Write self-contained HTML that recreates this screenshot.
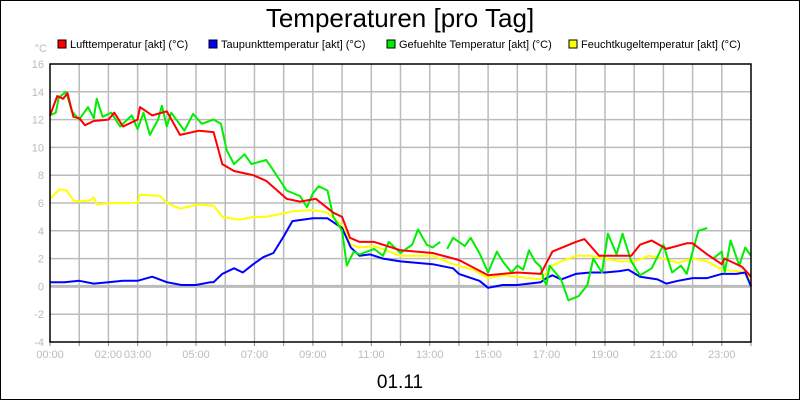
<!DOCTYPE html>
<html><head><meta charset="utf-8"><style>
body{margin:0;background:#fff}
svg{display:block;font-family:"Liberation Sans",sans-serif}
</style></head><body>
<svg id="c" width="800" height="400" viewBox="0 0 800 400">
<rect x="0.5" y="0.5" width="799" height="399" fill="#fff" stroke="#000"/>
<text x="400" y="27" text-anchor="middle" font-size="26">Temperaturen [pro Tag]</text>
<text x="400" y="388" text-anchor="middle" font-size="19">01.11</text>
<text x="47" y="52" text-anchor="end" font-size="11" fill="#bbb">°C</text>
<g id="legend"></g>
<g id="grid"></g><g id="series"></g>
<rect x="50" y="64" width="701" height="278" fill="none" stroke="#000" stroke-width="1.5"/>
</svg>
<script>
const seriesNames=["Lufttemperatur [akt] (°C)","Taupunkttemperatur [akt] (°C)","Gefuehlte Temperatur [akt] (°C)","Feuchtkugeltemperatur [akt] (°C)"];
const seriesColors=["#f00","#00f","#0e0","#ff0"];
const yTicks=[-4,-2,0,2,4,6,8,10,12,14,16];
const xTickLabels=["00:00","02:00","03:00","05:00","07:00","09:00","11:00","13:00","15:00","17:00","19:00","21:00","23:00"];
const xTickHours=[0,2,3,5,7,9,11,13,15,17,19,21,23];
const redH=[0,0.25,0.45,0.6,0.8,1.0,1.2,1.5,2.0,2.2,2.5,3.0,3.08,3.5,4.0,4.45,5.1,5.6,5.9,6.3,6.96,7.4,8.1,8.56,9.1,9.7,10.0,10.27,10.6,11.1,12.0,13.1,14.0,15.0,16.0,16.8,17.0,17.2,18.0,18.3,18.8,19.4,19.9,20.2,20.6,21.1,21.8,22.0,22.5,23.0,23.1,23.7,24];
const redV=[12.3,13.7,13.5,13.9,12.2,12.1,11.6,11.9,12.0,12.5,11.5,12.0,12.9,12.3,12.6,10.9,11.2,11.1,8.8,8.3,8.0,7.6,6.3,6.1,6.3,5.3,5.0,3.5,3.2,3.2,2.6,2.4,1.9,0.8,1.0,0.9,1.7,2.5,3.2,3.4,2.2,2.2,2.2,3.0,3.3,2.7,3.1,3.1,2.3,1.6,2.0,1.4,0.7];
const blueH=[0,0.5,1,1.5,2,2.5,3,3.5,4,4.5,5,5.5,5.6,5.9,6.3,6.6,6.96,7.3,7.65,8.0,8.3,9.0,9.5,10.0,10.3,10.6,10.96,11.4,12.0,13.1,13.8,14.0,14.7,15.0,15.5,16.0,16.8,17.0,17.2,17.5,18.0,18.5,19.0,19.5,19.8,20.2,20.8,21.1,21.5,22.0,22.5,23.0,23.5,23.8,24];
const blueV=[0.3,0.3,0.4,0.2,0.3,0.4,0.4,0.7,0.3,0.1,0.1,0.3,0.3,0.9,1.3,1.0,1.6,2.1,2.4,3.6,4.7,4.9,4.9,4.2,2.8,2.2,2.3,2.0,1.8,1.6,1.3,0.9,0.4,-0.1,0.1,0.1,0.3,0.6,0.8,0.5,0.9,1.0,1.0,1.1,1.2,0.7,0.5,0.2,0.4,0.6,0.6,0.9,0.9,1.0,0.0];
const yellowH=[0,0.34,0.57,0.8,1.0,1.37,1.5,1.6,2.17,3.0,3.08,3.77,4.0,4.45,5.1,5.6,5.9,6.5,6.96,7.4,8.1,8.3,9.0,9.5,10.0,10.3,10.6,11.1,12.0,13.1,13.8,14.5,15.0,15.5,16.0,16.8,17.2,17.5,18.0,18.5,19.0,19.5,20.0,20.5,21.0,21.5,22.0,22.5,23.0,23.5,23.8,24];
const yellowV=[6.3,7.0,6.9,6.2,6.1,6.2,6.4,5.9,6.0,6.0,6.6,6.5,6.0,5.6,5.9,5.8,5.0,4.8,5.0,5.0,5.3,5.4,5.5,5.3,4.4,3.0,2.8,2.9,2.2,2.2,1.6,1.2,0.6,0.8,0.7,0.5,1.5,1.8,2.2,2.2,2.0,1.8,1.8,2.2,2.0,1.7,2.0,1.8,1.2,1.1,1.0,0.4];
const greenH=[0,0.2,0.3,0.55,0.75,1.0,1.3,1.5,1.6,1.8,2.1,2.4,2.8,3.0,3.2,3.42,3.7,3.83,4.0,4.15,4.6,4.9,5.2,5.6,5.85,6.05,6.3,6.66,6.9,7.4,7.6,8.1,8.56,8.8,9.0,9.2,9.5,9.7,10.0,10.16,10.4,10.6,11.1,11.4,11.6,12.0,12.4,12.6,12.9,13.1,13.36,null,13.6,13.8,14.2,14.4,14.7,15.0,15.3,15.5,15.8,16.0,16.2,16.4,16.6,16.8,16.9,17.0,17.1,17.5,17.75,18.1,18.4,18.6,18.9,19.1,19.4,19.6,19.9,20.2,20.6,21.0,21.3,21.6,21.8,22.0,22.2,22.5,null,22.7,23.0,23.1,23.3,23.6,23.8,24];
const greenV=[12.3,12.5,13.6,14.0,12.6,12.0,12.9,12.1,13.5,12.2,12.5,11.5,12.3,11.3,12.5,10.9,12.0,13.0,11.5,12.5,11.2,12.4,11.7,12.0,11.7,9.8,8.8,9.5,8.8,9.1,8.5,6.9,6.5,5.7,6.7,7.2,6.9,5.0,4.0,1.5,2.5,2.3,2.7,2.2,3.2,2.4,3.0,4.1,3.0,2.8,3.2,null,2.7,3.5,2.9,3.5,2.4,1.0,2.5,1.8,1.0,1.5,1.2,2.6,1.8,1.4,0.5,0.1,1.5,0.5,-1.0,-0.7,0.1,2.0,1.0,3.8,2.3,3.8,1.8,0.8,1.3,3.0,1.0,1.5,0.9,2.5,4.0,4.2,null,2.0,2.5,1.0,3.3,1.5,2.8,2.2];

const NS="http://www.w3.org/2000/svg";
const X0=50,X1=751,Y0=342,Y1=64,YMIN=-4,YMAX=16;
const xs=h=>X0+h/24*(X1-X0);
const ys=v=>Y0-(v-YMIN)/(YMAX-YMIN)*(Y0-Y1);
function mk(tag,attrs,parent){const e=document.createElementNS(NS,tag);for(const k in attrs)e.setAttribute(k,attrs[k]);parent.appendChild(e);return e;}
const grid=document.getElementById('grid'),ser=document.getElementById('series'),leg=document.getElementById('legend');
for(let h=1;h<24;h++){
  const l=mk('line',{x1:xs(h),x2:xs(h),y1:Y1,y2:Y0,stroke:'#bbb','stroke-width':1.5},grid);
  
  
}
for(let h=0;h<=24;h++){
  const t=mk('line',{x1:xs(h),x2:xs(h),y1:Y0,y2:Y0+4,stroke:'#888'},grid);
  
  
}
yTicks.forEach(v=>{
  if(v!==YMIN&&v!==YMAX){
    const l=mk('line',{x1:X0,x2:X1,y1:ys(v),y2:ys(v),stroke:'#bbb','stroke-width':v===0?3:1.5},grid);
    
    
  }
  const t=mk('text',{x:44,y:ys(v)+4,'text-anchor':'end','font-size':11,fill:'#bbb'},grid);
  t.textContent=v;
  
  
});
xTickLabels.forEach((s,i)=>{
  const t=mk('text',{x:xs(xTickHours[i]),y:358,'text-anchor':'middle','font-size':11,fill:'#bbb'},grid);
  t.textContent=s;
  
  
});
function draw(H,V,color,name){
  let d='',pen=false;
  for(let i=0;i<H.length;i++){
    if(H[i]===null||V[i]===null){pen=false;continue;}
    d+=(pen?'L':'M')+xs(H[i]).toFixed(1)+','+ys(V[i]).toFixed(1);pen=true;
  }
  const p=mk('path',{d:d,fill:'none',stroke:color,'stroke-width':2,'stroke-linejoin':'round'},ser);
  
  
}
draw(yellowH,yellowV,seriesColors[3],'feuchtkugel-line');
draw(blueH,blueV,seriesColors[1],'taupunkt-line');
draw(greenH,greenV,seriesColors[2],'gefuehlte-line');
draw(redH,redV,seriesColors[0],'luft-line');
const legX=[58,209,387,569];
seriesNames.forEach((n,i)=>{
  const r=mk('rect',{x:legX[i],y:40,width:8,height:8,fill:seriesColors[i],stroke:'#000','stroke-width':1},leg);
  
  
  const t=mk('text',{x:legX[i]+12,y:48,'font-size':11,fill:'#000'},leg);
  t.textContent=n;
  
  
});
</script>
</body></html>
